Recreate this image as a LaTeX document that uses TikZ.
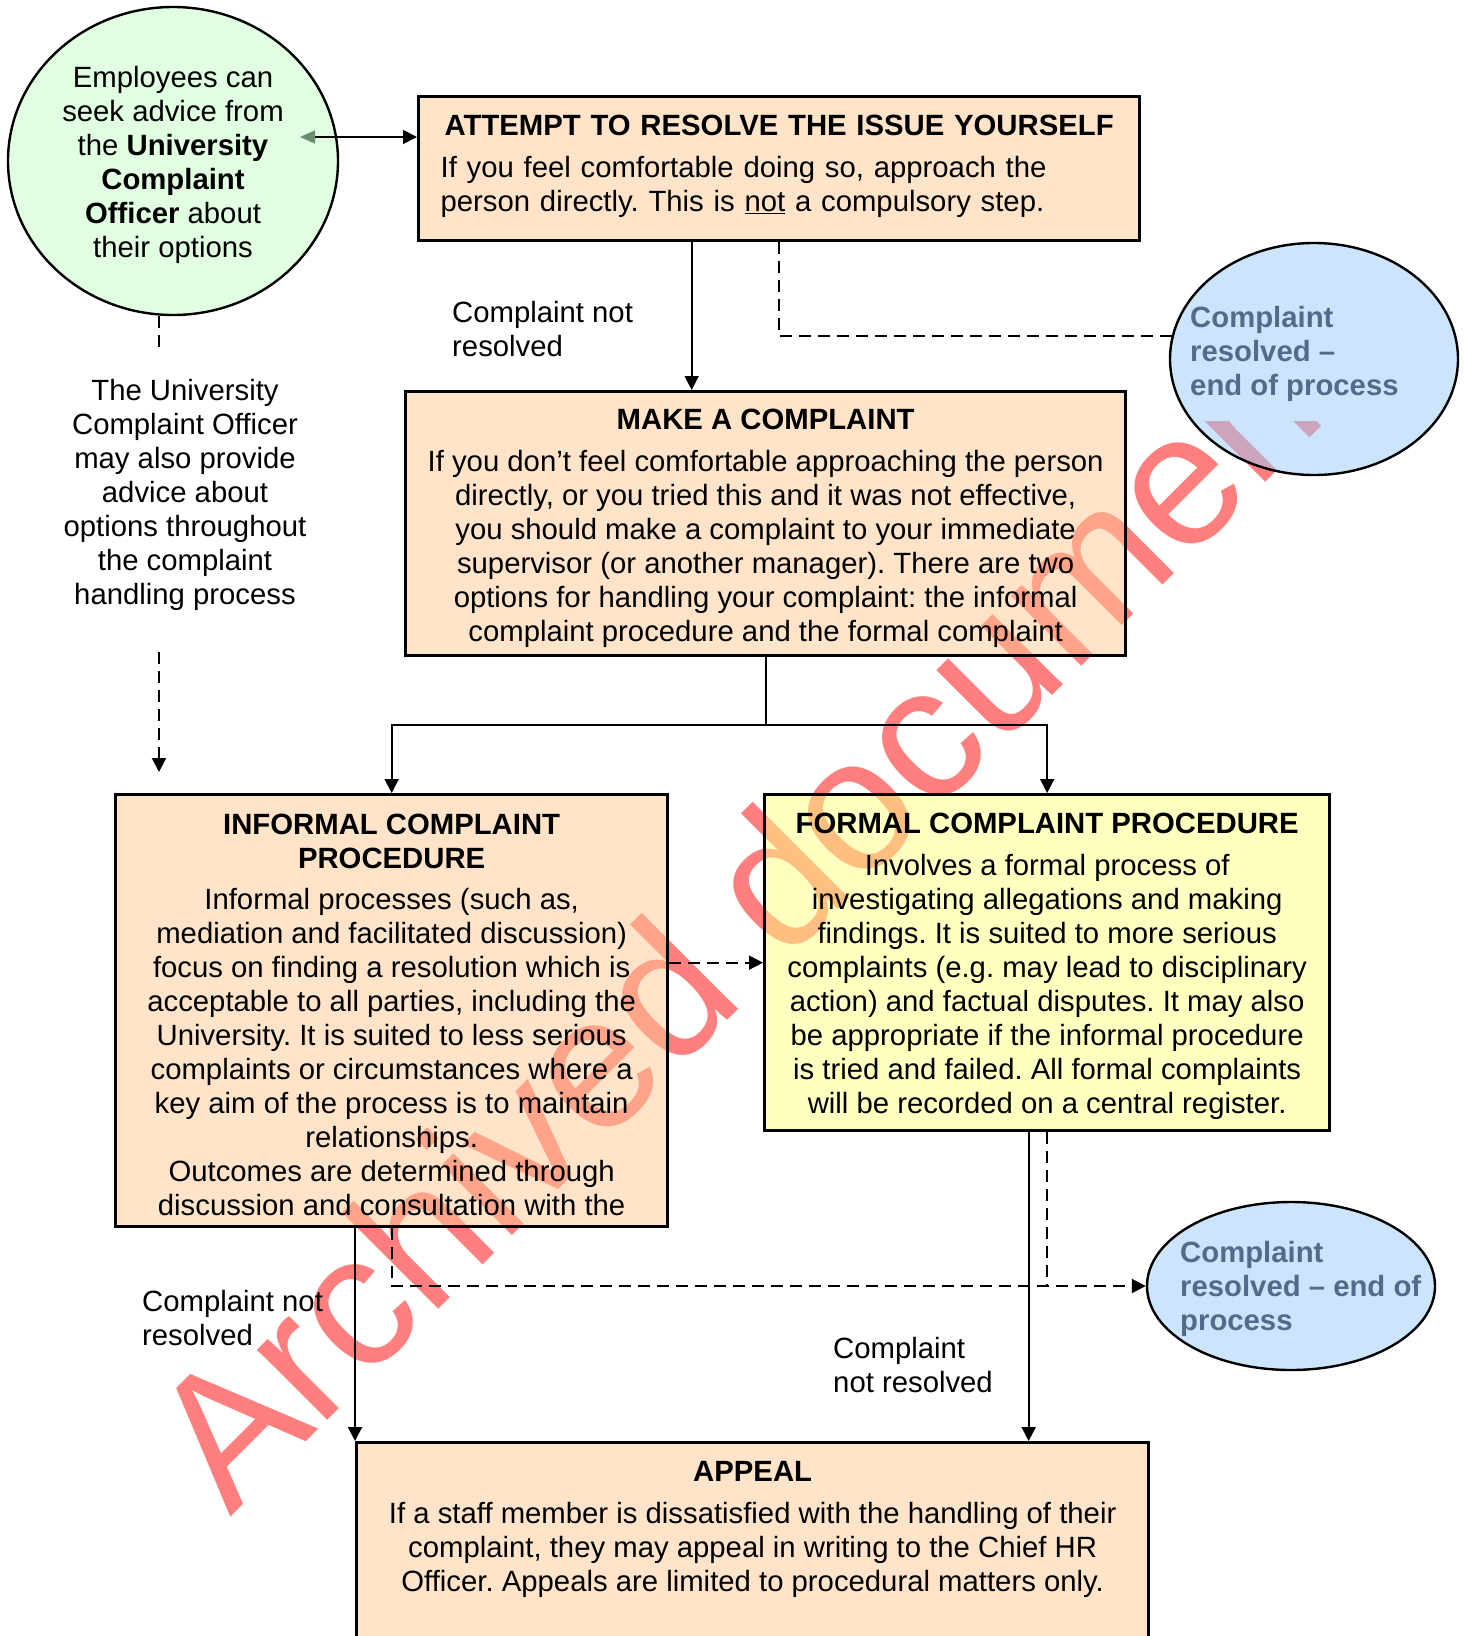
\documentclass[tikz,border=0pt]{standalone}
\usepackage{fontspec}
\setmainfont{Liberation Sans}
\usetikzlibrary{shapes.geometric,arrows.meta,positioning}
\frenchspacing
\definecolor{tanfill}{RGB}{255,202,148}
\definecolor{lemonfill}{RGB}{255,255,130}
\definecolor{mintfill}{RGB}{195,255,195}
\definecolor{skyfill}{RGB}{153,202,250}
\definecolor{endtext}{RGB}{83,107,138}
\definecolor{advtip}{RGB}{108,142,108}
\newcommand{\boxfont}{\fontsize{29.3}{34}\selectfont\frenchspacing}
\tikzstyle{block} = [rectangle, draw, line width=3.3pt, fill=tanfill, fill opacity=0.5,
    text opacity=1, inner sep=0pt, align=center, anchor=north west, font=\boxfont]
\tikzstyle{bubble} = [ellipse, draw, line width=2.4pt, fill=mintfill, fill opacity=0.5,
    text opacity=1, inner sep=0pt, align=center, font=\boxfont]
\tikzstyle{endpoint} = [ellipse, draw, line width=2.4pt, fill=skyfill, fill opacity=0.5]
\tikzstyle{endlabel} = [align=left, inner sep=0pt, anchor=north west, text=endtext,
    font=\boxfont\bfseries]
\tikzstyle{note} = [align=left, inner sep=0pt, font=\boxfont]
\tikzstyle{stamp} = [text=red, text opacity=0.5, inner sep=0pt,
    font=\fontsize{188}{200}\selectfont]
\tikzstyle{link} = [draw, line width=2pt]
\tikzstyle{conn} = [link, -{Triangle[width=14pt,length=14pt]}]
\tikzstyle{dline} = [link, dash pattern=on 12pt off 7pt]
\tikzstyle{dconn} = [conn, dash pattern=on 12pt off 7pt]

\begin{document}
\begin{tikzpicture}[x=1pt, y=-1pt]
        \useasboundingbox (0,0) rectangle (1467,1636);
        \clip (0,0) rectangle (1467,1636);

        % Watermark
        \begin{scope}
            \clip (0,421) rectangle (1467,1636);
            \node [stamp, anchor=base west, rotate=45] (stamp) at (230,1518) {Archived document};
        \end{scope}

        % Components
        \node [bubble, minimum width=330pt, minimum height=308pt] (advice) at (173,161)
            {\rule{0pt}{30pt}Employees can\\seek advice from\\the \textbf{University}\\\textbf{Complaint}\\\textbf{Officer} about\\their options};
        \node [block, minimum width=721pt, minimum height=144pt, text width=677pt, align=left] (attempt) at (417,95)
            {\makebox[\linewidth]{\bfseries ATTEMPT TO RESOLVE THE ISSUE YOURSELF}\\[8pt]
             If you feel comfortable doing so, approach the\\
             person directly. This is \underline{not} a compulsory step.\rule[-10pt]{0pt}{10pt}};
        \node [block, minimum width=720pt, minimum height=264pt] (complaint) at (404,390)
            {\rule{0pt}{30pt}\textbf{MAKE A COMPLAINT}\\[8pt]
             If you don’t feel comfortable approaching the person\\
             directly, or you tried this and it was not effective,\\
             you should make a complaint to your immediate\\
             supervisor (or another manager). There are two\\
             options for handling your complaint: the informal\\
             complaint procedure and the formal complaint};
        \node [block, minimum width=552pt, minimum height=432pt] (informal) at (114,793)
            {\rule{0pt}{28pt}\textbf{INFORMAL COMPLAINT}\\\textbf{PROCEDURE}\\[7pt]
             Informal processes (such as,\\
             mediation and facilitated discussion)\\
             focus on finding a resolution which is\\
             acceptable to all parties, including the\\
             University. It is suited to less serious\\
             complaints or circumstances where a\\
             key aim of the process is to maintain\\
             relationships.\\
             Outcomes are determined through\\
             discussion and consultation with the};
        \node [block, fill=lemonfill, minimum width=565pt, minimum height=336pt] (formal) at (763,793)
            {\rule{0pt}{28pt}\textbf{FORMAL COMPLAINT PROCEDURE}\\[8pt]
             Involves a formal process of\\
             investigating allegations and making\\
             findings. It is suited to more serious\\
             complaints (e.g. may lead to disciplinary\\
             action) and factual disputes. It may also\\
             be appropriate if the informal procedure\\
             is tried and failed. All formal complaints\\
             will be recorded on a central register.};
        \node [block, minimum width=792pt, inner ysep=18.5pt, text depth=150pt] (appeal) at (355,1441)
            {\textbf{APPEAL}\\[8pt]
             If a staff member is dissatisfied with the handling of their\\
             complaint, they may appeal in writing to the Chief HR\\
             Officer. Appeals are limited to procedural matters only.};

        \node [endpoint, minimum width=288pt, minimum height=232pt] (resolvedA) at (1314,359) {};
        \node [endlabel] (resolvedAtext) at (1190,306) {Complaint\\resolved --\\end of process};
        \node [endpoint, minimum width=288pt, minimum height=168pt] (resolvedB) at (1291,1286) {};
        \node [endlabel] (resolvedBtext) at (1180,1241) {Complaint\\resolved -- end of\\process};

        % Side texts
        \node [note, align=center, inner ysep=26pt, anchor=north] (officer) at (185,353)
            {The University\\Complaint Officer\\may also provide\\advice about\\options throughout\\the complaint\\handling process};
        \node [note, anchor=north west] (notres1) at (452,301) {Complaint not\\resolved};
        \node [note, anchor=north west] (notres2) at (142,1290) {Complaint not\\resolved};
        \node [note, anchor=north west] (notres3) at (833,1337) {Complaint\\not resolved};

        % Connections
        \coordinate (advicetip) at (300,137);
        \draw [link, line width=1.7pt, {Triangle[width=13pt,length=15pt,color=advtip]}-{Triangle[width=14pt,length=14pt]}]
            (advicetip) -- (advicetip -| attempt.west);
        \draw [conn] ([xshift=-87.5pt]attempt.south) -- ([xshift=-87.5pt]attempt.south |- complaint.north);
        \draw [dline] (attempt.south) |- (resolvedA.171);
        \draw [link] (complaint.south) -- ++(0,68) coordinate (split);
        \draw [conn] (split) -| (informal.north);
        \draw [conn] (split) -| (formal.north);
        \draw [dconn] (informal.east |- formal.west) -- (formal.west);
        \draw [conn] (informal.south -| appeal.north west) -- (appeal.north west);
        \draw [dconn] (informal.south) |- (resolvedB.west);
        \draw [conn] ([xshift=-18.5pt]formal.south) -- ([xshift=-18.5pt]formal.south |- appeal.north);
        \draw [dline] (formal.south) -- (formal.south |- resolvedB.west);
        \draw [dline] ([xshift=-14pt]advice.south) -- ([xshift=-14pt]advice.south |- officer.north);
        \draw [dconn, shorten <=15pt, shorten >=21pt] ([xshift=-14pt]advice.south |- officer.south)
            -- ([xshift=-14pt]advice.south |- informal.north);
    \end{tikzpicture}
\end{document}
